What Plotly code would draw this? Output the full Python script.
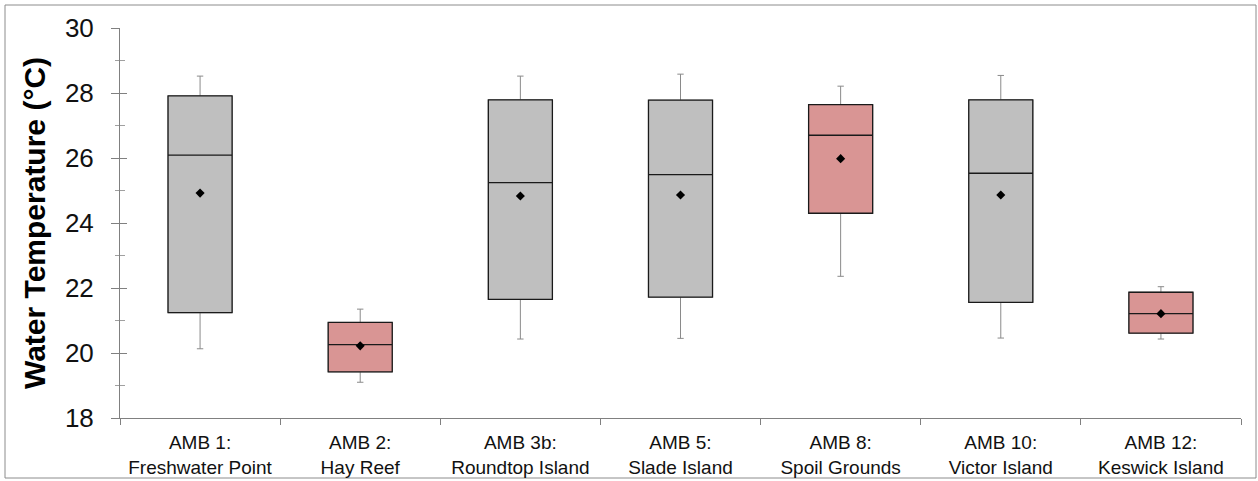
import plotly.graph_objects as go

categories = ["AMB 1:<br>Freshwater Point", "AMB 2:<br>Hay Reef", "AMB 3b:<br>Roundtop Island",
              "AMB 5:<br>Slade Island", "AMB 8:<br>Spoil Grounds", "AMB 10:<br>Victor Island",
              "AMB 12:<br>Keswick Island"]
minimum = [20.13, 19.10, 20.43, 20.45, 22.36, 20.46, 20.43]
q1 = [21.24, 19.42, 21.65, 21.72, 24.30, 21.56, 20.61]
median = [26.09, 20.26, 25.24, 25.49, 26.70, 25.53, 21.21]
q3 = [27.91, 20.94, 27.79, 27.78, 27.64, 27.79, 21.87]
maximum = [28.52, 21.35, 28.52, 28.58, 28.21, 28.54, 22.04]
mean = [24.92, 20.22, 24.83, 24.86, 25.98, 24.86, 21.21]
highlight = [False, True, False, False, True, False, True]

GRAY_FILL = "#BFBFBF"
RED_FILL = "#D99594"
FONT = "Arial, Liberation Sans, sans-serif"

fig = go.Figure()
for i, cat in enumerate(categories):
    fill = RED_FILL if highlight[i] else GRAY_FILL
    # whiskers
    fig.add_trace(go.Box(
        x=[cat], q1=[q1[i]], median=[median[i]], q3=[q3[i]],
        lowerfence=[minimum[i]], upperfence=[maximum[i]],
        width=0.4, whiskerwidth=0.1, fillcolor=fill,
        line=dict(color="#8a8a8a", width=1), boxpoints=False,
        hoverinfo="skip", showlegend=False))
    # box body
    fig.add_trace(go.Box(
        x=[cat], q1=[q1[i]], median=[median[i]], q3=[q3[i]],
        lowerfence=[q1[i]], upperfence=[q3[i]],
        width=0.4, whiskerwidth=0.0, fillcolor=fill,
        line=dict(color="#1a1a1a", width=1.3), boxpoints=False,
        hoverinfo="skip", showlegend=False))

fig.add_trace(go.Scatter(
    x=categories, y=mean, mode="markers",
    marker=dict(symbol="diamond", size=7, color="black"),
    hoverinfo="skip", showlegend=False))

fig.update_layout(
    width=1258, height=481,
    margin=dict(l=120, r=17, t=28, b=63),
    paper_bgcolor="white", plot_bgcolor="white",
    boxmode="overlay",
    font=dict(family=FONT, color="#111111"),
    xaxis=dict(
        type="category", range=[-0.5, 6.5], automargin=False,
        showline=True, linecolor="#808080", linewidth=1,
        ticks="outside", tickson="boundaries", ticklen=6, tickcolor="#808080",
        showgrid=False, zeroline=False,
        ticklabelstandoff=7,
        tickfont=dict(size=19, family=FONT, color="#111111"),
    ),
    yaxis=dict(
        range=[18, 30], dtick=2, tick0=18, automargin=False,
        showline=True, linecolor="#808080", linewidth=1,
        ticks="outside", ticklen=8, tickcolor="#808080",
        minor=dict(dtick=1, ticks="outside", ticklen=4, tickcolor="#a0a0a0"),
        showgrid=False, zeroline=False,
        ticklabelstandoff=12,
        tickfont=dict(size=26, family=FONT, color="#111111"),
        title=dict(text="<b>Water Temperature (°C)</b>", font=dict(size=30, family=FONT, color="#000000"),
                   standoff=10),
    ),
    yaxis2=dict(
        range=[18, 30], dtick=2, tick0=18, overlaying="y", side="left", automargin=False,
        showline=False, ticks="inside", ticklen=7, tickcolor="#808080",
        minor=dict(dtick=1, ticks="inside", ticklen=5, tickcolor="#a0a0a0"),
        showticklabels=False, showgrid=False, zeroline=False,
    ),
    shapes=[dict(type="rect", xref="paper", yref="paper",
                 x0=(5 - 120) / 1121, x1=(1256 - 120) / 1121,
                 y0=(418 - 478) / 390, y1=(418 - 5) / 390,
                 line=dict(color="#8c8c8c", width=1), fillcolor="rgba(0,0,0,0)", layer="below")],
)
# invisible trace so that yaxis2 is drawn
fig.add_trace(go.Scatter(x=[categories[0]], y=[None], yaxis="y2", showlegend=False, hoverinfo="skip"))

fig.write_html("out.html", config={"displayModeBar": False},
               post_script="document.body.style.margin='0px';document.body.style.overflow='hidden';")
